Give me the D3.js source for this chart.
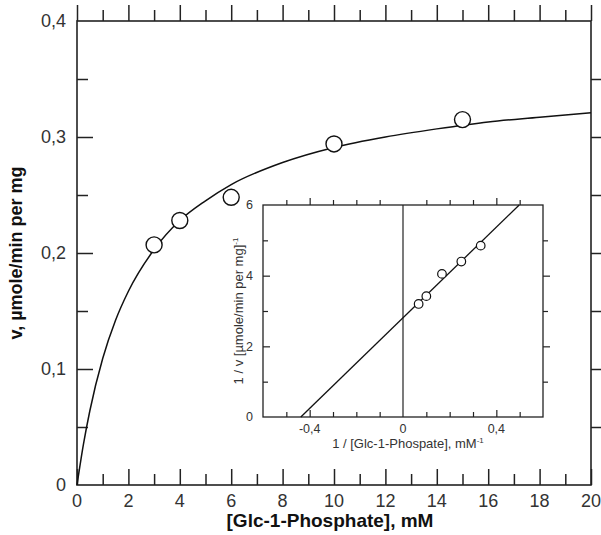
<!DOCTYPE html>
<html>
<head>
<meta charset="utf-8">
<script src="https://cdn.jsdelivr.net/npm/d3@7"></script>
<style>
  body { margin: 0; background: #fff; }
  svg { display: block; font-family: "Liberation Sans", Arial, sans-serif; }
</style>
</head>
<body>
<svg id="chart"></svg>
<script>
// measured points, main plot
const substrate = [3, 4, 6, 10, 15];
const velocity = [0.207, 0.228, 0.248, 0.294, 0.315];

// fitted curve
const fitS = [0, 0.25, 0.5, 1, 1.5, 2, 3, 4, 5, 6, 8, 10, 12, 14, 16, 18, 20];
const fitV = [0, 0.035, 0.064, 0.109, 0.142, 0.167, 0.203, 0.228, 0.245, 0.259,
              0.278, 0.291, 0.300, 0.307, 0.313, 0.317, 0.321];

// double reciprocal inset
const invS = [0.067, 0.1, 0.167, 0.25, 0.333];
const invV = [3.2, 3.42, 4.05, 4.4, 4.85];
const lbX = [-0.438, 0.498];
const lbY = [0, 6];

const xTickValues = [0, 2, 4, 6, 8, 10, 12, 14, 16, 18, 20];
const yTickValues = [0, 0.1, 0.2, 0.3, 0.4];
const yTickLabels = ['0', '0,1', '0,2', '0,3', '0,4'];
const insetXTickValues = [-0.4, 0, 0.4];
const insetXTickLabels = ['-0,4', '0', '0,4'];
const insetYTickValues = [0, 2, 4, 6];

const width = 601,
      height = 535,
      ink = '#222',
      svg = d3.select('#chart').attr('width', width).attr('height', height);

const x = d3.scaleLinear().domain([0, 20]).range([77, 591]),
      y = d3.scaleLinear().domain([0, 0.4]).range([485, 21]);

// ticks on all four sides, pointing inward
function ticks(g, axisFn, scale, values, size) {
  g.call(axisFn(scale).tickValues(values).tickSize(-size).tickSizeOuter(0).tickFormat(''))
    .call((s) => s.select('.domain').remove())
    .call((s) => s.selectAll('line').attr('stroke', ink).attr('stroke-width', 1.5));
}

const xMajor = d3.range(0, 21, 2), xMinor = d3.range(1, 20, 2),
      yMajor = [0.1, 0.2, 0.3], yMinor = [0.05, 0.15, 0.25, 0.35];

ticks(svg.append('g').attr('transform', `translate(0,${y(0)})`), d3.axisBottom, x, xMajor, 16);
ticks(svg.append('g').attr('transform', `translate(0,${y(0)})`), d3.axisBottom, x, xMinor, 11);
ticks(svg.append('g').attr('transform', `translate(0,${y(0.4)})`), d3.axisTop, x, xMajor, -16);
ticks(svg.append('g').attr('transform', `translate(0,${y(0.4)})`), d3.axisTop, x, xMinor, -11);
ticks(svg.append('g').attr('transform', `translate(${x(0)},0)`), d3.axisLeft, y, yMajor, 16);
ticks(svg.append('g').attr('transform', `translate(${x(0)},0)`), d3.axisLeft, y, yMinor, 11);
ticks(svg.append('g').attr('transform', `translate(${x(20)},0)`), d3.axisRight, y, yMajor, -16);
ticks(svg.append('g').attr('transform', `translate(${x(20)},0)`), d3.axisRight, y, yMinor, -11);

svg.append('rect')
    .attr('x', x(0)).attr('y', y(0.4))
    .attr('width', x(20) - x(0)).attr('height', y(0) - y(0.4))
    .attr('fill', 'none').attr('stroke', ink).attr('stroke-width', 1.6);

// tick labels
svg.append('g').selectAll('text')
  .data(xTickValues)
  .enter()
  .append('text')
    .attr('x', (d) => x(d))
    .attr('y', 507)
    .attr('text-anchor', 'middle')
    .attr('font-size', 18)
    .attr('fill', '#333')
    .text((d) => d);

svg.append('g').selectAll('text')
  .data(yTickValues)
  .enter()
  .append('text')
    .attr('x', 66)
    .attr('y', (d) => y(d))
    .attr('dy', '0.35em')
    .attr('text-anchor', 'end')
    .attr('font-size', 18)
    .attr('fill', '#333')
    .text((d, i) => yTickLabels[i]);

svg.append('text')
    .text('[Glc-1-Phosphate], mM')
    .attr('x', 330)
    .attr('y', 527)
    .attr('text-anchor', 'middle')
    .attr('font-size', 19)
    .attr('font-weight', 'bold')
    .attr('fill', '#111');

svg.append('text')
    .text('v, µmole/min per mg')
    .attr('transform', `translate(22,${(y(0) + y(0.4)) / 2}) rotate(-90)`)
    .attr('text-anchor', 'middle')
    .attr('font-size', 18)
    .attr('font-weight', 'bold')
    .attr('fill', '#111');

// fitted curve and points
svg.append('path')
    .datum(fitS.map((s, i) => [s, fitV[i]]))
    .attr('d', d3.line().x((d) => x(d[0])).y((d) => y(d[1])).curve(d3.curveMonotoneX))
    .attr('fill', 'none')
    .attr('stroke', '#111')
    .attr('stroke-width', 1.5);

svg.append('g').selectAll('circle')
  .data(substrate)
  .enter()
  .append('circle')
    .attr('cx', (d) => x(d))
    .attr('cy', (d, i) => y(velocity[i]))
    .attr('r', 8)
    .attr('fill', '#fff')
    .attr('stroke', '#111')
    .attr('stroke-width', 1.4);

// inset
const ix = d3.scaleLinear().domain([-0.6, 0.6]).range([263, 543]),
      iy = d3.scaleLinear().domain([0, 6]).range([417, 205]);

svg.append('rect')
    .attr('x', ix(-0.6)).attr('y', iy(6))
    .attr('width', ix(0.6) - ix(-0.6)).attr('height', iy(0) - iy(6))
    .attr('fill', '#fff');

const ixMajor = [-0.4, 0.4], ixMinor = [-0.5, -0.3, -0.2, -0.1, 0.1, 0.2, 0.3, 0.5],
      iyMajor = [2, 4], iyMinor = [1, 3, 5];

function insetTicks(g, axisFn, scale, values, size) {
  g.call(axisFn(scale).tickValues(values).tickSize(-size).tickSizeOuter(0).tickFormat(''))
    .call((s) => s.select('.domain').remove())
    .call((s) => s.selectAll('line').attr('stroke', ink).attr('stroke-width', 1.2));
}

insetTicks(svg.append('g').attr('transform', `translate(0,${iy(0)})`), d3.axisBottom, ix, ixMajor, 7);
insetTicks(svg.append('g').attr('transform', `translate(0,${iy(0)})`), d3.axisBottom, ix, ixMinor, 5);
insetTicks(svg.append('g').attr('transform', `translate(0,${iy(6)})`), d3.axisTop, ix, ixMajor, -7);
insetTicks(svg.append('g').attr('transform', `translate(0,${iy(6)})`), d3.axisTop, ix, ixMinor, -5);
insetTicks(svg.append('g').attr('transform', `translate(${ix(-0.6)},0)`), d3.axisLeft, iy, iyMajor, 7);
insetTicks(svg.append('g').attr('transform', `translate(${ix(-0.6)},0)`), d3.axisLeft, iy, iyMinor, 5);
insetTicks(svg.append('g').attr('transform', `translate(${ix(0.6)},0)`), d3.axisRight, iy, iyMajor, -7);
insetTicks(svg.append('g').attr('transform', `translate(${ix(0.6)},0)`), d3.axisRight, iy, iyMinor, -5);

svg.append('rect')
    .attr('x', ix(-0.6)).attr('y', iy(6))
    .attr('width', ix(0.6) - ix(-0.6)).attr('height', iy(0) - iy(6))
    .attr('fill', 'none').attr('stroke', ink).attr('stroke-width', 1.3);

// zero line
svg.append('line')
    .attr('x1', ix(0)).attr('x2', ix(0))
    .attr('y1', iy(0)).attr('y2', iy(6))
    .attr('stroke', ink).attr('stroke-width', 1.2);

svg.append('g').selectAll('text')
  .data(insetXTickValues)
  .enter()
  .append('text')
    .attr('x', (d) => ix(d))
    .attr('y', 433)
    .attr('text-anchor', 'middle')
    .attr('font-size', 12.5)
    .attr('fill', '#333')
    .text((d, i) => insetXTickLabels[i]);

svg.append('g').selectAll('text')
  .data(insetYTickValues)
  .enter()
  .append('text')
    .attr('x', 253)
    .attr('y', (d) => iy(d))
    .attr('dy', '0.35em')
    .attr('text-anchor', 'end')
    .attr('font-size', 12.5)
    .attr('fill', '#333')
    .text((d) => d);

const ixLabel = svg.append('text')
    .attr('x', 408)
    .attr('y', 448)
    .attr('text-anchor', 'middle')
    .attr('font-size', 13)
    .attr('fill', '#333')
    .text('1 / [Glc-1-Phospate], mM');
ixLabel.append('tspan').attr('dy', -5).attr('font-size', 8).text('-1');

const iyLabel = svg.append('text')
    .attr('transform', `translate(243,${(iy(0) + iy(6)) / 2}) rotate(-90)`)
    .attr('text-anchor', 'middle')
    .attr('font-size', 13)
    .attr('fill', '#333')
    .text('1 / v [µmole/min per mg]');
iyLabel.append('tspan').attr('dy', -5).attr('font-size', 8).text('-1');

svg.append('path')
    .datum(lbX.map((v, i) => [v, lbY[i]]))
    .attr('d', d3.line().x((d) => ix(d[0])).y((d) => iy(d[1])))
    .attr('fill', 'none')
    .attr('stroke', '#111')
    .attr('stroke-width', 1.3);

svg.append('g').selectAll('circle')
  .data(invS)
  .enter()
  .append('circle')
    .attr('cx', (d) => ix(d))
    .attr('cy', (d, i) => iy(invV[i]))
    .attr('r', 4.3)
    .attr('fill', '#fff')
    .attr('stroke', '#111')
    .attr('stroke-width', 1.2);
</script>
</body>
</html>
